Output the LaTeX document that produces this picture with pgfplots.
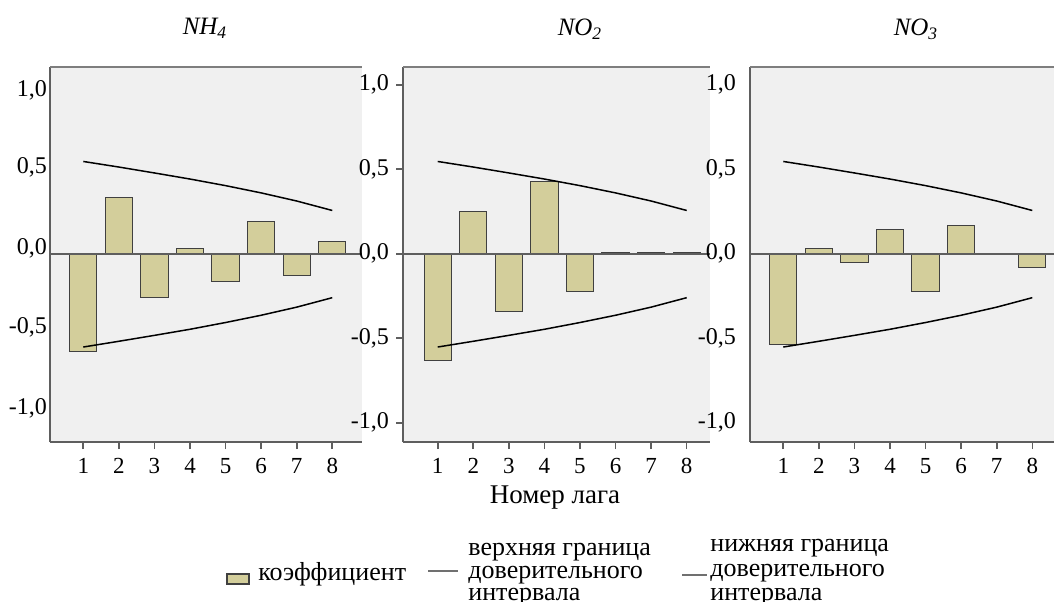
\documentclass[border=0pt]{standalone}
\usepackage{fontspec}
\setmainfont{Liberation Serif}
\usepackage{pgfplots}
\pgfplotsset{compat=1.18}

\definecolor{barfill}{HTML}{D3CE9B}
\definecolor{panelbg}{HTML}{F0F0F0}
\definecolor{axisgray}{HTML}{5E5E5E}
\definecolor{keygray}{HTML}{707070}

% shared look of the three autocorrelation panels
\pgfplotsset{
  acfpanel/.style={
    scale only axis,
    height=187.5pt,
    anchor=south west,
    ymin=-1.114, ymax=1.105,
    axis x line*=bottom, axis y line*=left,
    axis line style={axisgray, line width=0.9pt, -},
    axis background/.style={fill=panelbg},
    xtick={1,...,8},
    ytick={-1,-0.5,0,0.5,1},
    yticklabels={{-1,0},{-0,5},{0,0},{0,5},{1,0}},
    tick align=outside,
    major tick length=3.5pt,
    tick style={axisgray, line width=0.8pt},
    xticklabel style={font=\fontsize{11.5}{13}\selectfont, yshift=-1pt},
    yticklabel style={font=\fontsize{12}{13}\selectfont},
    /pgf/number format/assume math mode=true,
    clip=false,
  },
  coef/.style={ybar, bar width=0.77, fill=barfill, draw=black!75, line width=0.5pt},
  bound/.style={black, line width=0.75pt, mark=none},
}

% confidence bounds, identical for all three series
\pgfplotstableread{
lag upper lower
1 0.546 -0.552
2 0.513 -0.518
3 0.478 -0.483
4 0.442 -0.447
5 0.403 -0.407
6 0.360 -0.364
7 0.312 -0.316
8 0.256 -0.260
}\bounds

\pgfplotstableread{
lag nh4 no2 no3
1 -0.580 -0.631 -0.540
2  0.331  0.250  0.030
3 -0.258 -0.339 -0.053
4  0.030  0.430  0.144
5 -0.162 -0.223 -0.225
6  0.189  0.005  0.170
7 -0.130  0.005  0.003
8  0.075  0.005 -0.083
}\coefs

\begin{document}
\begin{tikzpicture}
\clip (0,0) rectangle (528pt,300.5pt);
\fill[white] (0,0) rectangle (528pt,300.5pt);

% NH4 (its scale labels sit on a slightly tighter grid, ticks hidden)
\begin{axis}[acfpanel, at={(25pt,79.5pt)}, width=156pt,
  xmin=0.064, xmax=8.835, ytick style={draw=none},
  ytick={-0.912,-0.436,0.031,0.511,0.969},
  yticklabel style={xshift=5.5pt}]
  \draw[axisgray!80, line width=0.9pt] (rel axis cs:0,1) -- (rel axis cs:1,1);
  \addplot[coef] table[x=lag, y=nh4] {\coefs};
  \addplot[axisgray, line width=1pt, mark=none] coordinates {(0.064,0) (8.835,0)};
  \addplot[bound] table[x=lag, y=upper] {\bounds};
  \addplot[bound] table[x=lag, y=lower] {\bounds};
\end{axis}

% NO2
\begin{axis}[acfpanel, at={(201.5pt,79.5pt)}, width=153.5pt,
  xmin=0.024, xmax=8.655]
  \draw[axisgray!80, line width=0.9pt] (rel axis cs:0,1) -- (rel axis cs:1,1);
  \addplot[coef] table[x=lag, y=no2] {\coefs};
  \addplot[axisgray, line width=1pt, mark=none] coordinates {(0.024,0) (8.655,0)};
  \addplot[bound] table[x=lag, y=upper] {\bounds};
  \addplot[bound] table[x=lag, y=lower] {\bounds};
\end{axis}

% NO3
\begin{axis}[acfpanel, at={(375pt,79.5pt)}, width=152pt,
  xmin=0.064, xmax=8.61, ytick style={draw=none}]
  \draw[axisgray!80, line width=0.9pt] (rel axis cs:0,1) -- (rel axis cs:1,1);
  \addplot[coef] table[x=lag, y=no3] {\coefs};
  \addplot[axisgray, line width=1pt, mark=none] coordinates {(0.064,0) (8.61,0)};
  \addplot[bound] table[x=lag, y=upper] {\bounds};
  \addplot[bound] table[x=lag, y=lower] {\bounds};
\end{axis}

% panel titles
\begin{scope}[every node/.style={anchor=base, inner sep=0pt, font=\fontsize{12.5}{14}\selectfont\itshape}]
  \node at (102.5pt,283pt) {NH\textsubscript{4}};
  \node at (290pt,282.5pt) {NO\textsubscript{2}};
  \node at (458pt,282.5pt) {NO\textsubscript{3}};
\end{scope}

% common x-axis title
\node[anchor=base, inner sep=0pt, font=\fontsize{13.5}{15}\selectfont] at (277.5pt,49pt) {Номер лага};

% key
\begin{scope}[every node/.style={anchor=base west, inner sep=0pt, font=\fontsize{13}{14}\selectfont}]
  \draw[fill=barfill, draw=black!75, line width=0.6pt] (113.5pt,8.5pt) rectangle (124.5pt,13.5pt);
  \node at (129pt,10.5pt) {коэффициент};
  \draw[keygray, line width=0.9pt] (214pt,15pt) -- (229pt,15pt);
  \node at (234pt,23pt) {верхняя граница};
  \node at (234pt,11.5pt) {доверительного};
  \node at (234pt,0.5pt) {интервала};
  \draw[keygray, line width=0.9pt] (341pt,13pt) -- (353.5pt,13pt);
  \node at (355pt,25pt) {нижняя граница};
  \node at (355pt,12.5pt) {доверительного};
  \node at (355pt,0.5pt) {интервала};
\end{scope}
\end{tikzpicture}
\end{document}
